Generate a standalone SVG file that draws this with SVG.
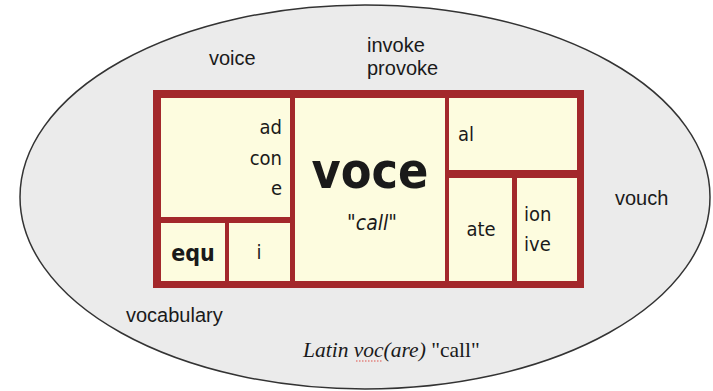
<svg xmlns="http://www.w3.org/2000/svg" width="713" height="391" viewBox="0 0 713 391">
<style>
.out{font-family:"Liberation Sans",Arial,sans-serif;font-size:20px;fill:#1a1a1a}
.in{font-family:"DejaVu Sans Condensed","DejaVu Sans",sans-serif;font-size:20px;fill:#1a1a1a}
.cell{fill:#fdfcdf}
.lat{font-family:"Liberation Serif","Times New Roman",serif;font-size:21.5px;fill:#1a1a1a}
</style>
<rect width="713" height="391" fill="#ffffff"/>
<g id="ellipse">
<ellipse cx="365" cy="197" rx="345" ry="192" fill="#ebebeb" stroke="#333" stroke-width="1.5"/>
</g>
<g id="outer-words">
<text class="out" x="209" y="65">voice</text>
<text class="out" x="367" y="52">invoke</text>
<text class="out" x="367" y="75">provoke</text>
<text class="out" x="615" y="205">vouch</text>
<text class="out" x="126" y="322">vocabulary</text>
</g>
<g id="frame">
<rect x="153" y="90" width="431" height="198" fill="#a3282b"/>
</g>
<g id="cell-prefix">
<rect class="cell" x="161" y="98" width="129" height="119"/>
<text class="in" x="282" y="134" text-anchor="end">ad</text>
<text class="in" x="282" y="165" text-anchor="end">con</text>
<text class="in" x="282" y="195" text-anchor="end">e</text>
</g>
<g id="cell-equ">
<rect class="cell" x="161" y="223" width="64" height="58"/>
<text class="in" x="193" y="261" text-anchor="middle" style="font-weight:bold;font-size:23px">equ</text>
</g>
<g id="cell-i">
<rect class="cell" x="229" y="223" width="61" height="58"/>
<text class="in" x="259" y="259" text-anchor="middle">i</text>
</g>
<g id="cell-voce">
<rect class="cell" x="295" y="98" width="150" height="183"/>
<text class="in" x="370" y="188" text-anchor="middle" style="font-weight:bold;font-size:50px" textLength="117" lengthAdjust="spacingAndGlyphs">voce</text>
<text class="in" x="372" y="230" text-anchor="middle" style="font-style:italic;font-size:21px">"call"</text>
</g>
<g id="cell-al">
<rect class="cell" x="449" y="98" width="128" height="72"/>
<text class="in" x="458" y="141">al</text>
</g>
<g id="cell-ate">
<rect class="cell" x="449" y="178" width="63" height="103"/>
<text class="in" x="481" y="236" text-anchor="middle">ate</text>
</g>
<g id="cell-ion">
<rect class="cell" x="517" y="178" width="60" height="103"/>
<text class="in" x="524" y="221">ion</text>
<text class="in" x="524" y="251">ive</text>
</g>
<g id="caption">
<text class="lat" x="303" y="357"><tspan style="font-style:italic">Latin voc(are)</tspan> "call"</text>
<line x1="356" y1="361" x2="382" y2="361" stroke="#e0504a" stroke-width="1.2" stroke-dasharray="1.5 1.5"/>
</g>
<g id="connectors"/>
</svg>
